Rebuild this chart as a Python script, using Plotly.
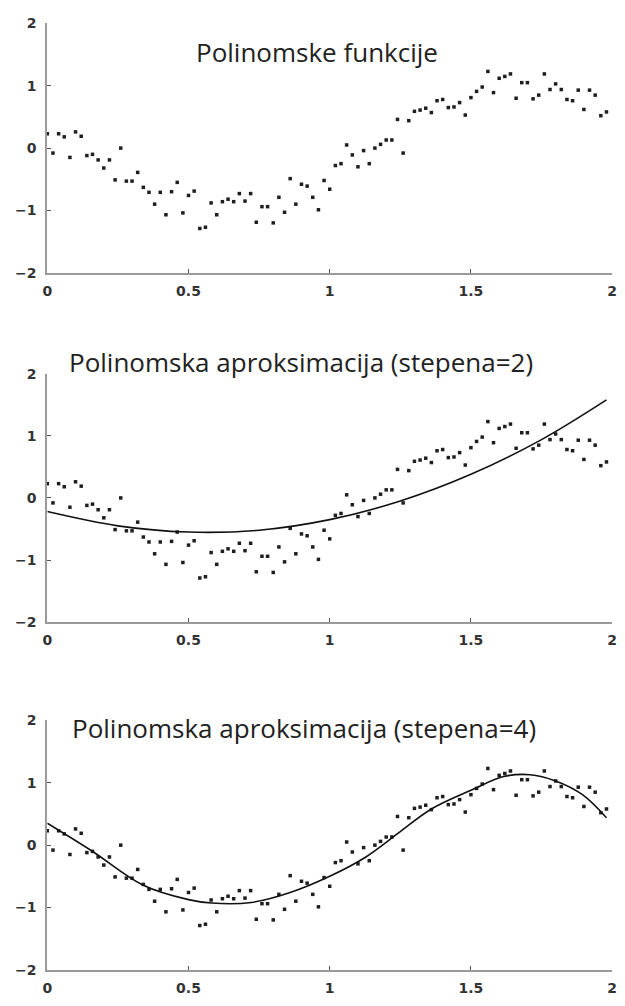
import plotly.graph_objects as go

# Sample points (x, y) shared by all three panels
x_data = [round(0.02 * i, 2) for i in range(100)]
y_data = [
    0.23, -0.08, 0.23, 0.18, -0.15, 0.26, 0.19, -0.12, -0.10, -0.19,
    -0.32, -0.19, -0.51, 0.00, -0.53, -0.53, -0.39, -0.63, -0.71, -0.90,
    -0.71, -1.07, -0.70, -0.55, -1.04, -0.76, -0.69, -1.29, -1.27, -0.88,
    -1.07, -0.86, -0.82, -0.86, -0.73, -0.85, -0.73, -1.19, -0.94, -0.94,
    -1.20, -0.79, -1.03, -0.49, -0.90, -0.58, -0.61, -0.79, -0.99, -0.52,
    -0.66, -0.28, -0.25, 0.05, -0.11, -0.30, -0.04, -0.25, 0.00, 0.06,
    0.13, 0.13, 0.46, -0.08, 0.44, 0.59, 0.61, 0.64, 0.57, 0.76,
    0.78, 0.65, 0.66, 0.73, 0.53, 0.81, 0.91, 0.98, 1.23, 0.89,
    1.12, 1.15, 1.19, 0.80, 1.05, 1.05, 0.79, 0.85, 1.19, 0.94,
    1.03, 0.94, 0.78, 0.76, 0.93, 0.62, 0.93, 0.85, 0.52, 0.58,
]

# Degree-2 approximation curve
fit2_x = [0.0, 0.25, 0.5, 0.75, 1.0, 1.25, 1.5, 1.75, 1.98]
fit2_y = [-0.22, -0.45, -0.55, -0.52, -0.35, -0.05, 0.38, 0.94, 1.58]

# Degree-4 approximation curve
fit4_x = [0.0, 0.163, 0.338, 0.5, 0.582, 0.722, 0.86, 1.0, 1.128, 1.245,
          1.36, 1.5, 1.616, 1.709, 1.8, 1.895, 1.98]
fit4_y = [0.35, -0.11, -0.64, -0.875, -0.93, -0.92, -0.76, -0.50, -0.19, 0.20,
          0.58, 0.88, 1.10, 1.13, 1.03, 0.81, 0.44]

titles = [
    "Polinomske funkcije",
    "Polinomska aproksimacija (stepena=2)",
    "Polinomska aproksimacija (stepena=4)",
]
x_ticks = [0, 0.5, 1, 1.5, 2]
x_tick_text = ["0", "0.5", "1", "1.5", "2"]
y_ticks = [-2, -1, 0, 1, 2]

W, H = 625, 1006
x_dom = [43 / W, 617 / W]
y_doms = [
    [1 - 269 / H, 1 - 15.7 / H],
    [1 - 624 / H, 1 - 371.7 / H],
    [1 - 977.3 / H, 1 - 724 / H],
]
title_pos = [(317, 45), (301, 360), (304, 732)]

fig = go.Figure()

marker = dict(symbol="square", size=3.5, color="#1e1e1e")
for k in range(3):
    sfx = "" if k == 0 else str(k + 1)
    fig.add_trace(go.Scatter(
        x=x_data, y=y_data, mode="markers", marker=marker,
        xaxis="x" + sfx, yaxis="y" + sfx, cliponaxis=False, showlegend=False,
    ))

fig.add_trace(go.Scatter(
    x=fit2_x, y=fit2_y, mode="lines",
    line=dict(color="#111", width=1.6, shape="spline"),
    xaxis="x2", yaxis="y2", cliponaxis=False, showlegend=False,
))
fig.add_trace(go.Scatter(
    x=fit4_x, y=fit4_y, mode="lines",
    line=dict(color="#111", width=1.6, shape="spline"),
    xaxis="x3", yaxis="y3", cliponaxis=False, showlegend=False,
))

axis_common = dict(
    showgrid=False, zeroline=False, showline=True, linecolor="#9a9a9a",
    linewidth=2, ticks="inside", ticklen=4, tickwidth=1, tickcolor="#555",
    tickfont=dict(family="DejaVu Sans", size=14, color="#333", weight="bold"),
)

layout = dict(
    width=W, height=H, margin=dict(l=0, r=0, t=0, b=0),
    paper_bgcolor="white", plot_bgcolor="white", showlegend=False,
)
for k in range(3):
    sfx = "" if k == 0 else str(k + 1)
    layout["xaxis" + sfx] = dict(
        axis_common, domain=x_dom, range=[0, 2], tickvals=x_ticks,
        ticktext=x_tick_text, anchor="y" + sfx, ticklabelstandoff=4,
    )
    layout["yaxis" + sfx] = dict(
        axis_common, domain=y_doms[k], range=[-2, 2], tickvals=y_ticks,
        anchor="x" + sfx, ticklabelstandoff=6,
    )
fig.update_layout(**layout)

for k, (tx, ty) in enumerate(title_pos):
    fig.add_annotation(
        text=titles[k], xref="paper", yref="paper", x=tx / W, y=1 - ty / H,
        xanchor="center", yanchor="middle", showarrow=False,
        font=dict(family="Open Sans", size=26, color="#222"),
    )

fig.write_html("out.html")
